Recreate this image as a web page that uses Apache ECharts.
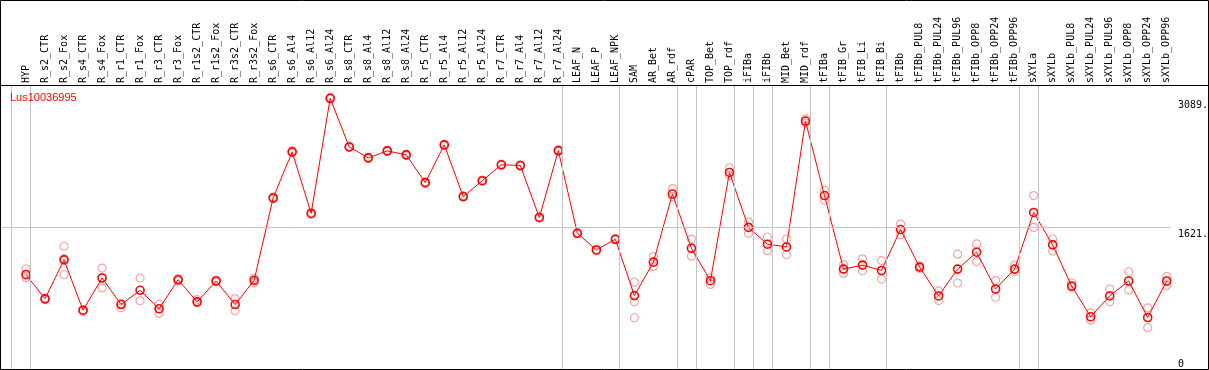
<!DOCTYPE html>
<html><head><meta charset="utf-8">
<script src="https://cdn.jsdelivr.net/npm/echarts@6/dist/echarts.min.js"></script>
<style>html,body{margin:0;padding:0;background:#fff}#c{width:1209px;height:370px}</style>
</head><body><div id="c"></div>
<script>
const geneName = 'Lus10036995';
const categories = ['HYP','R_s2_CTR','R_s2_Fox','R_s4_CTR','R_s4_Fox','R_r1_CTR','R_r1_Fox','R_r3_CTR','R_r3_Fox','R_r1s2_CTR','R_r1s2_Fox','R_r3s2_CTR','R_r3s2_Fox','R_s6_CTR','R_s6_Al4','R_s6_Al12','R_s6_Al24','R_s8_CTR','R_s8_Al4','R_s8_Al12','R_s8_Al24','R_r5_CTR','R_r5_Al4','R_r5_Al12','R_r5_Al24','R_r7_CTR','R_r7_Al4','R_r7_Al12','R_r7_Al24','LEAF_N','LEAF_P','LEAF_NPK','SAM','AR_Bet','AR_rdf','cPAR','TOP_Bet','TOP_rdf','iFIBa','iFIBb','MID_Bet','MID_rdf','tFIBa','tFIB_Gr','tFIB_Li','tFIB_Bi','tFIBb','tFIBb_PUL8','tFIBb_PUL24','tFIBb_PUL96','tFIBb_OPP8','tFIBb_OPP24','tFIBb_OPP96','sXYLa','sXYLb','sXYLb_PUL8','sXYLb_PUL24','sXYLb_PUL96','sXYLb_OPP8','sXYLb_OPP24','sXYLb_OPP96'];
const means = [1086,809,1252,680,1046,744,906,696,1026,775,1012,744,1019,1956,2480,1780,3089,2536,2412,2491,2446,2130,2559,1972,2152,2333,2325,1734,2494,1554,1365,1486,846,1226,2001,1384,1015,2246,1621,1430,1399,2830,1983,1147,1192,1131,1597,1170,842,1147,1339,921,1147,1791,1422,955,605,842,1012,597,1012];
const repA = [1151,818,1407,688,1159,756,1046,748,1038,801,1021,812,1046,1968,2490,1791,3097,2545,2420,2500,2455,2140,2567,1981,2160,2341,2333,1742,2503,1562,1373,1494,1000,1290,2062,1486,1046,2299,1685,1512,1489,2856,2046,1199,1264,1244,1659,1184,899,1317,1433,1019,1192,1983,1489,989,650,921,1117,707,1064];
const repB = [1049,801,1083,665,933,710,786,643,1012,763,1000,673,993,1944,2470,1770,3080,2527,2404,2482,2437,2120,2551,1963,2144,2325,2317,1726,2485,1546,1357,1478,775,1177,1972,1294,973,2212,1554,1357,1309,2807,1930,1098,1128,1034,1538,1151,789,989,1233,827,1120,1621,1354,940,567,775,910,481,962];
const repC = [1071,null,1266,null,1046,null,null,null,null,null,null,null,null,null,null,null,null,null,null,null,null,null,null,null,null,null,null,null,null,null,null,null,594,null,null,null,null,null,null,null,null,null,null,null,null,null,null,null,null,null,null,null,null,null,null,null,null,null,null,null,null];
const groupEnds = ['HYP','R_r7_Al24','LEAF_NPK','AR_rdf','cPAR','TOP_rdf','iFIBa','iFIBb','MID_rdf','tFIBa','tFIB_Bi','tFIBb_OPP96','sXYLa','sXYLb_OPP96'];
const refLineValue = 1621;
const rightTicks = [3089, 1621, 0];
const rightTickLabels = ['3089.', '1621.', '0'];

const chart = echarts.init(document.getElementById('c'), null, {renderer: 'canvas'});
const idx = categories.map((_, i) => i);
const repPts = [];
[repA, repB, repC].forEach(arr => arr.forEach((v, i) => { if (v != null) repPts.push([i, v]); }));
const sepLines = [{xAxis: -0.8}].concat(groupEnds.map(n => ({xAxis: categories.indexOf(n) + 0.23})));
sepLines.push({yAxis: refLineValue});

chart.setOption({
  animation: false,
  backgroundColor: '#fff',
  grid: {left: 0, top: 85, width: 1170, height: 286.9},
  xAxis: {
    type: 'value', position: 'top', min: -1.3676, max: 60.173,
    axisLine: {show: false}, axisTick: {show: false}, splitLine: {show: false},
    axisLabel: {
      customValues: idx, rotate: 90, margin: 2,
      fontFamily: 'DejaVu Sans Mono', fontSize: 10, color: '#000',
      formatter: v => categories[v] || ''
    }
  },
  yAxis: {type: 'value', min: 0, max: 3240, show: false},
  series: [
    {
      type: 'scatter', data: repPts, symbol: 'circle', symbolSize: 8,
      itemStyle: {color: 'rgba(0,0,0,0)', borderColor: '#ef9090', borderWidth: 1.2},
      markLine: {
        silent: true, symbol: 'none', label: {show: false},
        lineStyle: {color: '#c4c4c4', width: 1, type: 'solid'},
        data: sepLines
      },
      z: 2
    },
    {
      type: 'line', data: means.map((v, i) => [i, v]),
      symbol: 'circle', symbolSize: 8, showAllSymbol: true,
      lineStyle: {color: '#ff0000', width: 1},
      itemStyle: {color: 'rgba(0,0,0,0)', borderColor: '#ff0000', borderWidth: 1.6},
      z: 3
    }
  ]
});

const graphics = [
  {type: 'rect', shape: {x: 0.5, y: 0.5, width: 1208, height: 369}, style: {fill: 'none', stroke: '#000', lineWidth: 1}, z: 10},
  {type: 'line', shape: {x1: 0, y1: 85.5, x2: 1209, y2: 85.5}, style: {stroke: '#000', lineWidth: 1}, z: 10},
  {type: 'text', x: 10, y: 92, style: {text: geneName, fill: '#ff0000', font: '11px "Liberation Sans"', textVerticalAlign: 'top'}, z: 10}
];
rightTicks.forEach((v, k) => {
  const py = chart.convertToPixel({yAxisIndex: 0}, v);
  graphics.push({type: 'text', x: 1178, y: Math.min(py + 2, 359),
    style: {text: rightTickLabels[k], fill: '#000', font: '10px "DejaVu Sans Mono"', textVerticalAlign: 'top'}, z: 10});
});
chart.setOption({graphic: graphics});
</script></body></html>
